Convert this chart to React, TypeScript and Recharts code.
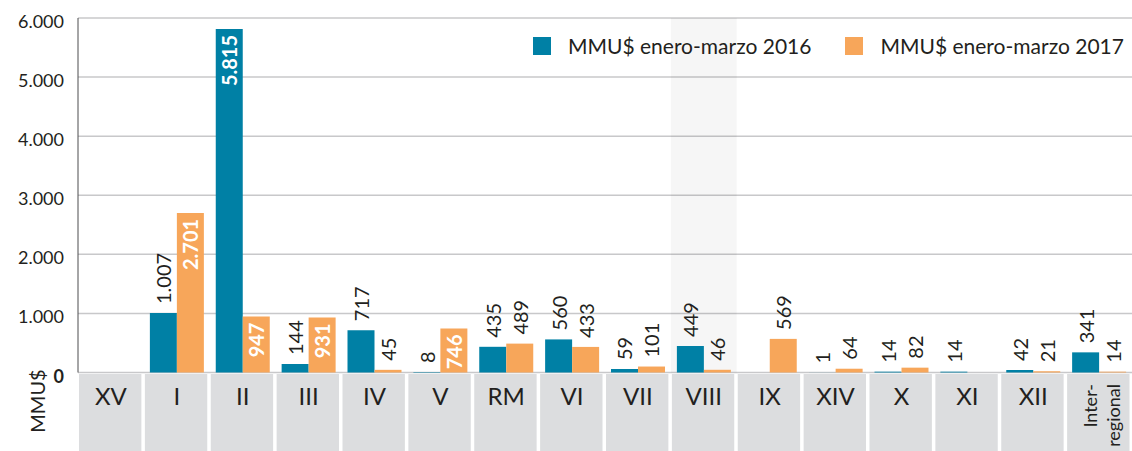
import React from 'react';
import { BarChart, Bar, XAxis, YAxis, CartesianGrid, ReferenceArea, LabelList, Label } from 'recharts';

const categories = ['XV', 'I', 'II', 'III', 'IV', 'V', 'RM', 'VI', 'VII', 'VIII', 'IX', 'XIV', 'X', 'XI', 'XII', 'Inter-regional'];
const values2016: (number | null)[] = [null, 1007, 5815, 144, 717, 8, 435, 560, 59, 449, null, 1, 14, 14, 42, 341];
const values2017: (number | null)[] = [null, 2701, 947, 931, 45, 746, 489, 433, 101, 46, 569, 64, 82, null, 21, 14];
const yTicks = [0, 1000, 2000, 3000, 4000, 5000, 6000];
const seriesNames = ['MMU$ enero-marzo 2016', 'MMU$ enero-marzo 2017'];
const insideLabels2016 = ['II'];
const insideLabels2017 = ['I', 'II', 'III', 'V'];
const highlightCategory = 'VIII';
const yAxisTitle = 'MMU$';

const data = categories.map((c, i) => ({ cat: c, v2016: values2016[i], v2017: values2017[i] }));

const CHART_W = 1132;
const CHART_H = 451;
const Y_AXIS_W = 78;
const X_AXIS_H = 78.5;
const BAND = (CHART_W - Y_AXIS_W) / categories.length;
const FONT = 'Lato, "Noto Sans", sans-serif';
const TEXT = '#231f20';
const BLUE = '#0080a5';
const ORANGE = '#f7a65a';
const COLORS = [BLUE, ORANGE];

const fmt = (n: number) => String(n).replace(/\B(?=(\d{3})+(?!\d))/g, '.');

const makeLabel = (insideList: string[]) => (props: any) => {
  const vb = props.viewBox || {};
  const x = props.x ?? vb.x;
  const y = props.y ?? vb.y;
  const width = props.width ?? vb.width;
  const { value } = props;
  if (value == null || x == null) return null;
  const cx = x + width / 2;
  const catIdx = Math.floor((cx - Y_AXIS_W) / BAND);
  const cat = categories[catIdx];
  if (insideList.includes(cat)) {
    const ty = y + 6;
    return (
      <text x={cx} y={ty} transform={`rotate(-90 ${cx} ${ty})`} textAnchor="end" dominantBaseline="central"
        fill="#ffffff" fontWeight={700} fontSize={20} fontFamily={FONT}>{fmt(value)}</text>
    );
  }
  const ty = y - 9;
  return (
    <text x={cx} y={ty} transform={`rotate(-90 ${cx} ${ty})`} textAnchor="start" dominantBaseline="central"
      fill={TEXT} fontSize={20} fontFamily={FONT}>{fmt(value)}</text>
  );
};

const XTick = (props: any) => {
  const { x, y, payload } = props;
  const label: string = payload.value;
  const left = x - BAND / 2 + 1;
  let content;
  if (label.includes('-')) {
    const parts = label.split('-');
    const lines = [parts[0] + '-', parts.slice(1).join('-')];
    const ty = y + 10;
    content = (
      <text transform={`rotate(-90 ${x} ${ty})`} fontSize={18} fill={TEXT} fontFamily={FONT} textAnchor="end">
        <tspan x={x} y={ty - 2}>{lines[0]}</tspan>
        <tspan x={x} y={ty + 21}>{lines[1]}</tspan>
      </text>
    );
  } else {
    content = (
      <text x={x} y={y + 31} textAnchor="middle" fontSize={24} fill={TEXT} fontFamily={FONT}>{label}</text>
    );
  }
  return (
    <g>
      <rect x={left} y={y} width={BAND - 3.5} height={CHART_H - y} fill="#dcdddf" />
      {content}
    </g>
  );
};

const YTick = (props: any) => {
  const { x, y, payload } = props;
  const v = payload.value;
  return (
    <text x={x} y={y + 3} textAnchor="end" dominantBaseline="central" fontSize={18}
      fontWeight={v === 0 ? 700 : 400} fill={TEXT} fontFamily={FONT}>{fmt(v)}</text>
  );
};

const LegendBox = () => (
  <div style={{ position: 'absolute', top: 36, left: 533, display: 'flex', alignItems: 'center', fontFamily: FONT, fontSize: 21, color: TEXT, whiteSpace: 'nowrap', lineHeight: '20px' }}>
    {seriesNames.map((n, i) => (
      <div key={n} style={{ display: 'flex', alignItems: 'center', marginRight: 34 }}>
        <div style={{ width: 18, height: 18, background: COLORS[i], marginRight: 17 }} />
        <span>{n}</span>
      </div>
    ))}
  </div>
);

export default function App() {
  return (
    <div style={{ position: 'absolute', left: 0, top: 0, width: CHART_W, height: CHART_H, background: '#fff' }}>
      <BarChart width={CHART_W} height={CHART_H} data={data} margin={{ top: 18, right: 0, left: 0, bottom: 0 }}
        barCategoryGap={6} barGap={0}>
        <ReferenceArea x1={highlightCategory} x2={highlightCategory} fill="#000000" fillOpacity={0.035} stroke="none" ifOverflow="visible" />
        <CartesianGrid vertical={false} stroke="#c8c8ca" strokeWidth={1.5} />
        <XAxis dataKey="cat" interval={0} axisLine={false} tickLine={false} tickSize={0} tickMargin={1.5}
          height={X_AXIS_H} tick={<XTick />} />
        <YAxis domain={[0, 6000]} ticks={yTicks} width={Y_AXIS_W} tickLine={false} tickSize={0} tickMargin={14}
          axisLine={{ stroke: '#4d4d4f', strokeWidth: 1 }} tick={<YTick />} interval={0}>
          <Label content={() => (
            <text x={37} y={401} transform="rotate(-90 37 401)" textAnchor="middle" dominantBaseline="central"
              fontSize={20} fill={TEXT} fontFamily={FONT}>{yAxisTitle}</text>
          )} />
        </YAxis>
        <Bar dataKey="v2016" name={seriesNames[0]} fill={BLUE} isAnimationActive={false}>
          <LabelList dataKey="v2016" content={makeLabel(insideLabels2016)} />
        </Bar>
        <Bar dataKey="v2017" name={seriesNames[1]} fill={ORANGE} isAnimationActive={false}>
          <LabelList dataKey="v2017" content={makeLabel(insideLabels2017)} />
        </Bar>
      </BarChart>
      <LegendBox />
    </div>
  );
}
